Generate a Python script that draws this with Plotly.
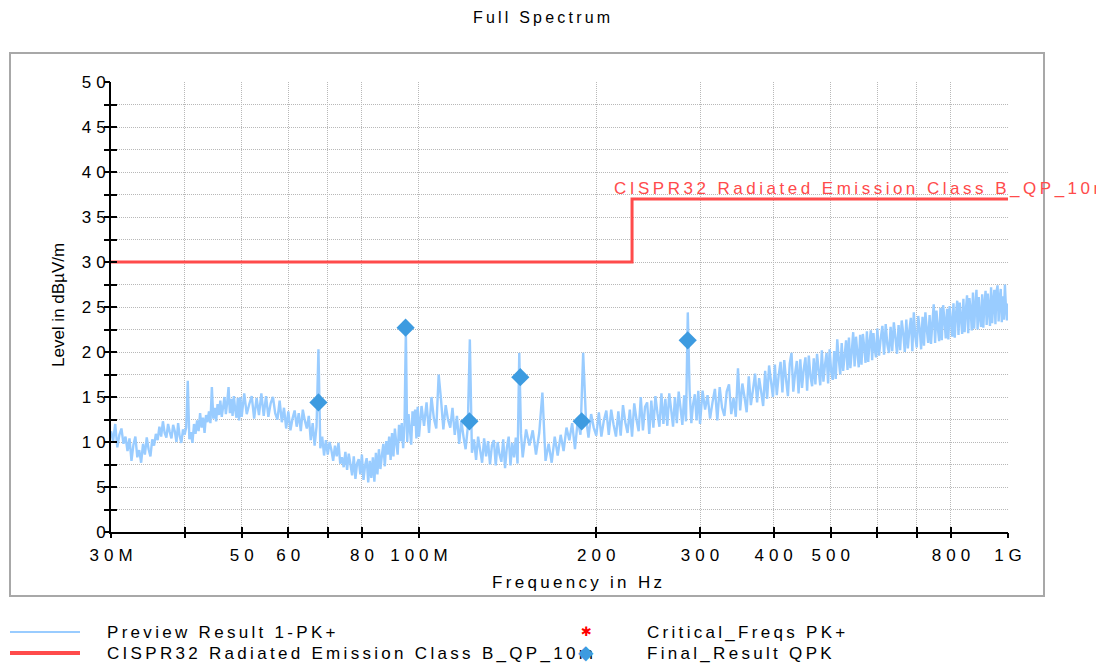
import math
import plotly.graph_objects as go

# ---------------- data ----------------
title_text = "Full Spectrum"
x_title = "Frequency in Hz"
y_title = "Level in dBµV/m"
limit_name = "CISPR32 Radiated Emission Class B_QP_10m"
preview_name = "Preview Result 1-PK+"
critical_name = "Critical_Freqs PK+"
final_name = "Final_Result QPK"

# preview spectrum, MHz / dBµV/m
spec_a1_freq = [30.00, 30.25, 30.50, 30.75, 31.00, 31.25, 31.50, 31.75,
                32.00, 32.25, 32.50, 32.75, 33.00, 33.25, 33.50, 33.75,
                34.00, 34.25, 34.50, 34.75, 35.00, 35.25, 35.50, 35.75,
                36.00, 36.25, 36.50, 36.75, 37.00, 37.25, 37.50, 37.75,
                38.00, 38.25, 38.50, 38.75, 39.00, 39.25, 39.50, 39.75,
                40.00, 40.25, 40.50, 40.75, 41.00, 41.25, 41.50, 41.75,
                42.00, 42.25, 42.50, 42.75, 43.00, 43.25, 43.50, 43.75,
                44.00, 44.25, 44.50, 44.75, 45.00, 45.25, 45.50, 45.75,
                46.00, 46.25, 46.50, 46.75, 47.00, 47.25, 47.50, 47.75,
                48.00, 48.25, 48.50, 48.75, 49.00, 49.25, 49.50, 49.75]
spec_a1_level = [11.2, 10.1, 12.0, 9.4, 10.8, 11.5, 9.8, 10.6,
                 9.0, 10.4, 7.9, 9.7, 10.6, 8.3, 9.1, 7.7,
                 9.8, 8.6, 10.5, 9.2, 8.4, 10.3, 9.6, 10.9,
                 10.2, 11.7, 10.6, 12.3, 11.0, 10.5, 12.0, 11.1,
                 10.4, 11.9, 11.2, 10.0, 12.1, 10.6, 9.9, 11.4,
                 10.8, 11.6, 16.8, 10.3, 11.1, 9.9, 12.0, 10.9,
                 12.4, 11.2, 13.2, 11.6, 12.7, 11.0, 13.0, 12.2,
                 13.4, 12.1, 16.1, 12.6, 13.8, 12.3, 14.2, 13.0,
                 14.6, 12.8, 13.9, 15.0, 13.1, 14.4, 16.1, 13.2,
                 14.8, 12.9, 15.1, 13.6, 12.7, 14.9, 12.4, 15.0]

spec_a2_freq = [50.0, 50.5, 51.0, 51.5, 52.0, 52.5, 53.0, 53.5, 54.0, 54.5,
                55.0, 55.5, 56.0, 56.5, 57.0, 57.5, 58.0, 58.5, 59.0, 59.5,
                60.0, 60.5, 61.0, 61.5, 62.0, 62.5, 63.0, 63.5, 64.0, 64.5,
                65.0, 65.5, 66.0, 66.5, 67.0, 67.5, 68.0, 68.5, 69.0, 69.5,
                70.0, 70.5, 71.0, 71.5, 72.0, 72.5, 73.0, 73.5, 74.0, 74.5,
                75.0, 75.5, 76.0, 76.5, 77.0, 77.5, 78.0, 78.5, 79.0, 79.5,
                80.0, 80.5, 81.0, 81.5, 82.0, 82.5, 83.0, 83.5, 84.0, 84.5,
                85.0, 85.5, 86.0, 86.5, 87.0, 87.5, 88.0, 88.5, 89.0, 89.5,
                90.0, 90.5, 91.0, 91.5, 92.0, 92.5, 93.0, 93.5, 94.0, 94.5,
                95.0, 95.5, 96.0, 96.5, 97.0, 97.5, 98.0, 98.5, 99.0, 99.5]
spec_a2_level = [12.8, 15.4, 13.1, 14.2, 15.1, 12.6, 14.9, 13.0, 15.4, 12.9,
                 15.1, 12.8, 14.3, 15.0, 13.2, 12.5, 14.6, 12.2, 13.8, 11.5,
                 13.4, 11.3, 12.6, 13.5, 11.7, 13.2, 11.2, 13.6, 12.4, 11.5,
                 12.9, 10.2, 12.1, 9.6, 11.7, 20.3, 9.3, 10.6, 8.5, 10.2,
                 8.6, 10.0, 9.1, 7.9, 9.6, 8.4, 9.9, 7.6, 8.3, 7.2,
                 8.9, 6.9, 8.7, 7.5, 6.3, 8.4, 5.9, 7.6, 8.1, 6.4,
                 8.6, 5.8, 7.4, 8.2, 5.5, 7.9, 6.0, 8.3, 5.6, 8.8,
                 6.4, 9.2, 7.0, 8.5, 9.8, 7.3, 10.1, 8.6, 10.6, 8.0,
                 11.0, 8.4, 11.5, 9.9, 8.6, 11.9, 10.1, 12.1, 9.3, 11.8,
                 22.5, 10.0, 13.1, 11.4, 9.7, 13.4, 11.8, 13.6, 10.4, 13.9]

spec_b_freq = [100, 101, 102, 103, 104, 105, 106, 107, 108, 109,
               110, 111, 112, 113, 114, 115, 116, 117, 118, 119,
               120, 121, 122, 123, 124, 125, 126, 127, 128, 129,
               130, 131, 132, 133, 134, 135, 136, 137, 138, 139,
               140, 141, 142, 143, 144, 145, 146, 147, 148, 149]
spec_b_level = [10.6, 14.0, 11.8, 14.4, 11.0, 15.0, 12.6, 11.5, 17.5, 14.7,
                11.4, 14.1, 12.5, 11.6, 13.8, 10.8, 12.9, 9.8, 12.4, 10.6,
                9.2, 11.6, 21.4, 8.8, 10.3, 8.0, 10.6, 9.1, 7.7, 10.4,
                8.4, 10.1, 7.5, 9.6, 10.2, 7.4, 10.0, 8.6, 7.8, 10.3,
                7.1, 9.4, 10.6, 7.4, 9.9, 8.3, 10.5, 7.6, 19.9, 10.9]

spec_c_freq = [150, 152, 154, 156, 158, 160, 162, 164, 166, 168,
               170, 172, 174, 176, 178, 180, 182, 184, 186, 188,
               190, 192, 194, 196, 198, 200, 202, 204, 206, 208,
               210, 212, 214, 216, 218, 220, 222, 224, 226, 228,
               230, 232, 234, 236, 238, 240, 242, 244, 246, 248,
               250, 252, 254, 256, 258, 260, 262, 264, 266, 268,
               270, 272, 274, 276, 278, 280, 282, 284, 286, 288,
               290, 292, 294, 296, 298]
spec_c_level = [8.3, 11.4, 9.6, 11.3, 8.6, 11.0, 15.5, 7.9, 9.8, 7.7,
                10.6, 8.5, 10.8, 9.0, 11.6, 10.2, 12.1, 9.2, 12.4, 10.8,
                19.9, 12.8, 10.5, 13.1, 11.6, 10.7, 13.3, 10.6, 12.4, 13.5,
                10.8, 13.6, 11.9, 10.6, 13.4, 10.7, 14.1, 12.2, 11.0, 13.6,
                10.6, 14.3, 12.5, 11.2, 15.0, 11.3, 13.9, 14.4, 10.9, 14.6,
                11.6, 15.1, 13.2, 11.7, 15.4, 12.0, 14.8, 11.8, 15.4, 13.6,
                11.7, 15.0, 12.1, 15.6, 13.8, 11.9, 15.2, 12.3, 24.4, 15.8,
                12.1, 14.2, 15.3, 12.4, 15.7]

spec_d_freq = [300, 303, 306, 309, 312, 315, 318, 321, 324, 327,
               330, 333, 336, 339, 342, 345, 348, 351, 354, 357,
               360, 363, 366, 369, 372, 375, 378, 381, 384, 387,
               390, 393, 396, 399, 402, 405, 408, 411, 414, 417,
               420, 423, 426, 429, 432, 435, 438, 441, 444, 447,
               450, 453, 456, 459, 462, 465, 468, 471, 474, 477,
               480, 483, 486, 489, 492, 495, 498, 501, 504, 507,
               510, 513, 516, 519, 522, 525, 528, 531, 534, 537,
               540, 543, 546, 549, 552, 555, 558, 561, 564, 567,
               570, 573, 576, 579, 582, 585, 588, 591, 594, 597]
spec_d_level = [12.0, 15.7, 13.6, 15.2, 12.6, 14.4, 15.9, 12.4, 16.1, 13.8,
                12.9, 15.6, 16.4, 13.1, 14.9, 12.8, 18.2, 13.5, 16.5, 15.0,
                13.3, 17.3, 14.1, 15.8, 17.6, 14.4, 17.1, 15.6, 14.0, 17.9,
                14.8, 18.5, 16.7, 15.0, 18.6, 15.2, 17.4, 18.9, 15.5, 19.1,
                16.9, 15.1, 18.7, 19.9, 15.6, 17.6, 19.0, 15.4, 19.2, 16.0,
                18.1, 19.4, 15.7, 19.6, 17.3, 16.2, 19.3, 16.4, 19.8, 18.0,
                16.3, 20.2, 16.7, 18.6, 19.9, 16.5, 20.3, 17.8, 16.9, 20.1,
                17.0, 21.4, 19.2, 17.5, 21.0, 17.9, 19.6, 21.3, 18.0, 21.6,
                18.2, 20.1, 22.2, 18.4, 21.7, 19.9, 18.3, 21.9, 18.6, 22.0,
                20.6, 18.8, 22.3, 18.9, 21.1, 22.4, 19.1, 22.1, 20.3, 19.4]

spec_e_freq = [600, 604, 608, 612, 616, 620, 624, 628, 632, 636,
               640, 644, 648, 652, 656, 660, 664, 668, 672, 676,
               680, 684, 688, 692, 696, 700, 704, 708, 712, 716,
               720, 724, 728, 732, 736, 740, 744, 748, 752, 756,
               760, 764, 768, 772, 776, 780, 784, 788, 792, 796,
               800, 804, 808, 812, 816, 820, 824, 828, 832, 836,
               840, 844, 848, 852, 856, 860, 864, 868, 872, 876,
               880, 884, 888, 892, 896, 900, 904, 908, 912, 916,
               920, 924, 928, 932, 936, 940, 944, 948, 952, 956,
               960, 964, 968, 972, 976, 980, 984, 988, 992, 996, 1000]
spec_e_level = [22.6, 19.6, 21.5, 22.9, 19.7, 23.1, 20.8, 19.9, 22.8, 20.1,
                23.3, 21.6, 19.8, 23.0, 20.2, 23.5, 22.1, 20.0, 23.6, 20.4,
                22.4, 23.8, 20.1, 24.4, 21.7, 20.5, 24.0, 22.6, 20.3, 23.9,
                20.7, 24.4, 22.5, 21.0, 24.1, 20.9, 23.2, 25.3, 21.0, 24.6,
                22.7, 21.2, 24.9, 21.3, 25.2, 23.6, 21.5, 24.8, 21.4, 25.1,
                23.4, 21.7, 25.4, 21.6, 24.2, 25.7, 21.9, 25.5, 23.8, 22.0,
                25.9, 22.2, 24.6, 26.3, 22.1, 26.0, 24.7, 22.4, 26.6, 22.6,
                25.1, 26.9, 22.5, 26.1, 23.9, 22.8, 26.4, 22.7, 25.3, 26.8,
                23.0, 26.5, 24.8, 22.9, 27.2, 23.2, 25.6, 26.9, 23.1, 26.7,
                27.4, 23.4, 25.9, 27.0, 23.3, 26.2, 23.6, 27.5, 24.9, 23.5, 25.4]

# limit line
limit_freq = [30, 230, 230, 1000]
limit_level = [30, 30, 37, 37]

# final QPK results
final_freq = [67.5, 94.9, 121.8, 148.6, 188.9, 285.9]
final_level = [14.4, 22.7, 12.3, 17.2, 12.3, 21.3]

# critical frequencies (none shown)
critical_freq = []
critical_level = []

# axis ticks
x_tick_mhz = [30, 40, 50, 60, 70, 80, 100, 200, 300, 400, 500, 600, 700, 800, 1000]
x_tick_text = ["30M", "", "50", "60", "", "80", "100M", "200", "300", "400", "500", "", "", "800", "1G"]
y_tick_vals = [0, 2.5, 5, 7.5, 10, 12.5, 15, 17.5, 20, 22.5, 25, 27.5, 30, 32.5, 35, 37.5, 40, 42.5, 45, 47.5, 50]
y_tick_text = ["0", "", "5", "", "10", "", "15", "", "20", "", "25", "", "30", "", "35", "", "40", "", "45", "", "50"]

# ---------------- styling ----------------
FONT = "Liberation Sans, Arial, sans-serif"
PREVIEW_C = "#99CCFF"
LIMIT_C = "#FF4B4B"
FINAL_C = "#3D9BE0"
GRID_C = "#B8B8B8"

OFF = 8                      # page body margin offset
W, H = 1104 - OFF, 664 - OFF
L, T = 111 - OFF, 82 - OFF   # plot area left / top in figure pixels
R = W - (1008 - OFF)
B = H - (532 - OFF)
PW, PH = W - L - R, H - T - B


def px_x(px):
    """reference-picture x pixel -> paper coordinate"""
    return (px - OFF - L) / PW


def px_y(py):
    """reference-picture y pixel -> paper coordinate"""
    return (H - B - (py - OFF)) / PH


def spaced(text, sp):
    if not text:
        return ""
    if len(text) == 1:
        return text
    return f'<span style="letter-spacing:{sp}px">{text[:-1]}</span>{text[-1]}'


MHZ = 1e6
spec_freq = spec_a1_freq + spec_a2_freq + spec_b_freq + spec_c_freq + spec_d_freq + spec_e_freq
spec_level = spec_a1_level + spec_a2_level + spec_b_level + spec_c_level + spec_d_level + spec_e_level

fig = go.Figure()
fig.add_trace(go.Scatter(x=[f * MHZ for f in spec_freq], y=spec_level, mode="lines",
                         line=dict(color=PREVIEW_C, width=2.4, simplify=False),
                         name=preview_name, showlegend=False))
fig.add_trace(go.Scatter(x=[f * MHZ for f in limit_freq], y=limit_level, mode="lines",
                         line=dict(color=LIMIT_C, width=3), name=limit_name, showlegend=False))
fig.add_trace(go.Scatter(x=[f * MHZ for f in critical_freq], y=critical_level, mode="markers",
                         marker=dict(symbol="asterisk-open", color="red", size=10),
                         name=critical_name, showlegend=False))
fig.add_trace(go.Scatter(x=[f * MHZ for f in final_freq], y=final_level, mode="markers",
                         marker=dict(symbol="diamond", size=14, color=FINAL_C,
                                     line=dict(width=0)),
                         name=final_name, showlegend=False))
# overlay axes carry the outward half of the crossing tick marks
fig.add_trace(go.Scatter(x=[], y=[], xaxis="x2", yaxis="y2", showlegend=False, hoverinfo="skip"))

xr = [math.log10(30 * MHZ), math.log10(1000 * MHZ)]
x_vals = [v * MHZ for v in x_tick_mhz]
tickfont = dict(family=FONT, size=17, color="black")

fig.update_layout(
    width=W, height=H,
    margin=dict(l=L, r=R, t=T, b=B),
    paper_bgcolor="white", plot_bgcolor="white",
    font=dict(family=FONT, size=17, color="black"),
    showlegend=False,
    xaxis=dict(type="log", range=xr, tickmode="array", tickvals=x_vals,
               ticktext=[spaced(t, 5) for t in x_tick_text],
               ticks="inside", ticklen=5, tickwidth=1.5, tickcolor="black",
               showline=True, linecolor="black", linewidth=2,
               showgrid=True, gridcolor=GRID_C, gridwidth=1, griddash="1px,1px",
               zeroline=False, tickfont=tickfont, ticklabelstandoff=7),
    yaxis=dict(range=[0, 50], tickmode="array", tickvals=y_tick_vals,
               ticktext=[spaced(t, 5) for t in y_tick_text],
               ticks="inside", ticklen=6, tickwidth=1.5, tickcolor="black",
               showline=True, linecolor="black", linewidth=2,
               showgrid=True, gridcolor=GRID_C, gridwidth=1, griddash="1px,1px",
               zeroline=False, tickfont=tickfont),
    xaxis2=dict(type="log", range=xr, overlaying="x", anchor="y2", tickmode="array",
                tickvals=x_vals, ticks="outside", ticklen=5, tickwidth=1.5,
                tickcolor="black", showticklabels=False, showgrid=False,
                showline=False, zeroline=False),
    yaxis2=dict(range=[0, 50], overlaying="y", anchor="x2", tickmode="array",
                tickvals=y_tick_vals, ticks="outside", ticklen=6, tickwidth=1.5,
                tickcolor="black", showticklabels=False, showgrid=False,
                showline=False, zeroline=False),
)

shapes = [
    # outer chart frame
    dict(type="rect", xref="paper", yref="paper", x0=px_x(10), x1=px_x(1044),
         y0=px_y(596), y1=px_y(53), line=dict(color="#A8A8A8", width=2), layer="below"),
    # legend line samples
    dict(type="line", xref="paper", yref="paper", x0=px_x(10), x1=px_x(80),
         y0=px_y(632), y1=px_y(632), line=dict(color=PREVIEW_C, width=2)),
    dict(type="line", xref="paper", yref="paper", x0=px_x(10), x1=px_x(80),
         y0=px_y(653), y1=px_y(653), line=dict(color=LIMIT_C, width=4)),
]

annotations = [
    dict(text=spaced(title_text, 3.2), xref="paper", yref="paper", x=px_x(541), y=px_y(18),
         xanchor="center", yanchor="middle", showarrow=False, font=dict(size=16)),
    dict(text=spaced(x_title, 3.3), xref="paper", yref="paper", x=px_x(577), y=px_y(582),
         xanchor="center", yanchor="middle", showarrow=False, font=dict(size=17)),
    dict(text=y_title, xref="paper", yref="paper", x=px_x(58), y=px_y(305),
         xanchor="center", yanchor="middle", textangle=-90, showarrow=False,
         font=dict(size=17)),
    dict(text=spaced(limit_name, 3.5), xref="x", yref="y",
         x=math.log10(limit_freq[1] * MHZ), y=limit_level[2], xanchor="left",
         yanchor="bottom", xshift=-20, yshift=-1, showarrow=False,
         font=dict(size=17, color=LIMIT_C)),
    # legend texts
    dict(text=spaced(preview_name, 3.3), xref="paper", yref="paper", x=px_x(105), y=px_y(632),
         xanchor="left", yanchor="middle", showarrow=False, font=dict(size=17)),
    dict(text=spaced(limit_name, 3.3), xref="paper", yref="paper", x=px_x(105), y=px_y(653),
         xanchor="left", yanchor="middle", showarrow=False, font=dict(size=17)),
    dict(text="✱", xref="paper", yref="paper", x=px_x(586), y=px_y(631),
         xanchor="center", yanchor="middle", showarrow=False,
         font=dict(size=13, color="red", family="DejaVu Sans")),
    dict(text="◆", xref="paper", yref="paper", x=px_x(586), y=px_y(652),
         xanchor="center", yanchor="middle", showarrow=False,
         font=dict(size=20, color=FINAL_C, family="DejaVu Sans")),
    dict(text=spaced(critical_name, 3.3), xref="paper", yref="paper", x=px_x(645), y=px_y(632),
         xanchor="left", yanchor="middle", showarrow=False, font=dict(size=17)),
    dict(text=spaced(final_name, 3.3), xref="paper", yref="paper", x=px_x(645), y=px_y(653),
         xanchor="left", yanchor="middle", showarrow=False, font=dict(size=17)),
]

fig.update_layout(shapes=shapes, annotations=annotations)
fig.write_html("out.html")
